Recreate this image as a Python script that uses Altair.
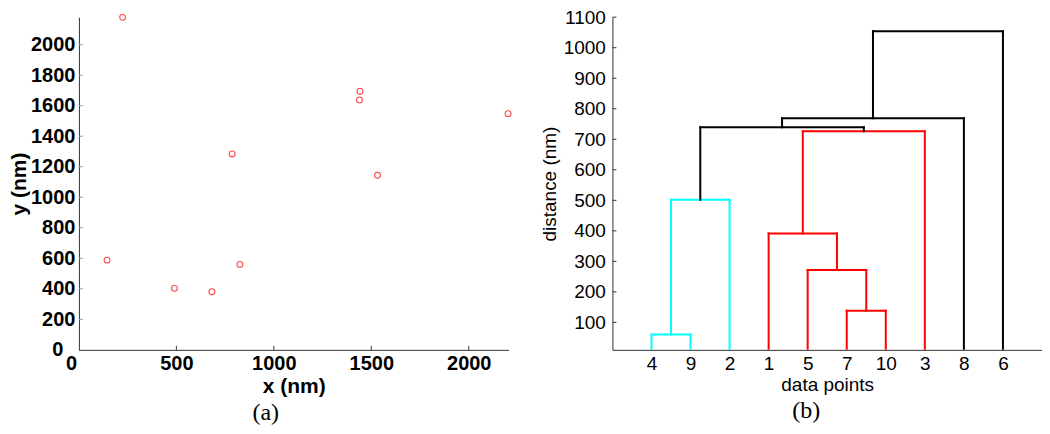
import altair as alt
import pandas as pd

# ---------------- Panel (a): point positions ----------------
pt_x = [224, 786, 1442, 1439, 2202, 1532, 144, 490, 682, 826]
pt_y = [2179, 1284, 1695, 1638, 1548, 1144, 588, 403, 381, 560]
a_xticks = [0, 500, 1000, 1500, 2000]
a_yticks = [0, 200, 400, 600, 800, 1000, 1200, 1400, 1600, 1800, 2000]
a_xdomain = [0, 2204]
a_ydomain = [0, 2180]

# ---------------- Panel (b): dendrogram ----------------
leaf_order = [4, 9, 2, 1, 5, 7, 10, 3, 8, 6]
link_left = [4, 7, 5, 1, 11, 14, 15, 17, 18]
link_right = [9, 10, 12, 13, 2, 3, 16, 8, 6]
link_height = [60, 138, 272, 391, 502, 726, 739, 769, 1054]
link_color = ["cyan", "red", "red", "red", "cyan", "red", "black", "black", "black"]
b_yticks = [100, 200, 300, 400, 500, 600, 700, 800, 900, 1000, 1100]
b_ydomain = [10, 1100]

W_A, W_B, H = 430, 430, 333
AXIS_COL = "#333333"
SANS = "Liberation Sans"
SERIF = "Liberation Serif"

# ---- panel (a) ----
pts = pd.DataFrame({"x": pt_x, "y": pt_y})
xs_a = alt.Scale(domain=a_xdomain, nice=False, zero=False)
ys_a = alt.Scale(domain=a_ydomain, nice=False, zero=False)

common_a = dict(ticks=False, grid=False, format="d", labelOverlap=False,
                labelFont=SANS, labelFontWeight="bold", labelFontSize=20,
                labelColor="black", titleFont=SANS, titleFontWeight="bold",
                titleFontSize=21, titleColor="black", domainColor=AXIS_COL,
                labelFlush=False)
ax_a_x = alt.Axis(title="x (nm)", values=a_xticks, labelPadding=4, titlePadding=2,
                  labelOffset={"condition": {"test": "datum.value === 0", "value": -8},
                               "value": 0},
                  **common_a)
ax_a_y = alt.Axis(title="y (nm)", values=a_yticks, titlePadding=1,
                  labelPadding={"condition": {"test": "datum.value === 0", "value": 16},
                                "value": 4},
                  **common_a)

points = alt.Chart(pts).mark_point(
    shape="circle", filled=False, color="#ff0000", size=34, strokeWidth=1.1
).encode(
    x=alt.X("x:Q", scale=xs_a, axis=ax_a_x),
    y=alt.Y("y:Q", scale=ys_a, axis=ax_a_y),
)

a_xt = pd.DataFrame({"x": a_xticks[1:]})
a_yt = pd.DataFrame({"y": a_yticks[1:]})
a_xtick_layer = alt.Chart(a_xt).mark_rule(color=AXIS_COL, strokeWidth=1).encode(
    x=alt.X("x:Q", scale=xs_a, axis=ax_a_x), y=alt.value(H), y2=alt.value(H - 4))
a_ytick_layer = alt.Chart(a_yt).mark_rule(color="#999999", strokeWidth=1).encode(
    y=alt.Y("y:Q", scale=ys_a, axis=ax_a_y), x=alt.value(0), x2=alt.value(4))

panel_a = alt.layer(points, a_xtick_layer, a_ytick_layer).properties(
    width=W_A, height=H,
    title=alt.TitleParams("(a)", orient="bottom", font=SERIF, fontSize=24,
                          fontWeight="normal", color="black", offset=4,
                          anchor="middle", frame="group", dx=-28))

# ---- panel (b) ----
pos = {leaf: i + 1 for i, leaf in enumerate(leaf_order)}
hgt = {leaf: 0 for leaf in leaf_order}
n = len(leaf_order)
rows = []
for k, (l, r, h, c) in enumerate(zip(link_left, link_right, link_height, link_color)):
    xl, xr = pos[l], pos[r]
    rows.append({"x": xl, "x2": xr, "y": h, "y2": h, "c": c})
    rows.append({"x": xl, "x2": xl, "y": hgt[l], "y2": h, "c": c})
    rows.append({"x": xr, "x2": xr, "y": hgt[r], "y2": h, "c": c})
    node = n + 1 + k
    pos[node] = (xl + xr) / 2
    hgt[node] = h
segs = pd.DataFrame(rows)

label_arr = "[" + ",".join("'%d'" % v for v in leaf_order) + "]"
xs_b = alt.Scale(domain=[0, n + 1], nice=False, zero=False)
ys_b = alt.Scale(domain=b_ydomain, nice=False, zero=False)

common_b = dict(ticks=False, grid=False, labelOverlap=False,
                labelFont=SANS, labelFontSize=19, labelColor="black",
                titleFont=SANS, titleFontWeight="normal", titleFontSize=19,
                titleColor="black", domainColor=AXIS_COL, labelFlush=False)
ax_b_x = alt.Axis(title="data points", values=list(range(1, n + 1)),
                  labelExpr=label_arr + "[datum.value - 1]",
                  labelPadding=5, titlePadding=2, **common_b)
ax_b_y = alt.Axis(title="distance (nm)", values=b_yticks, format="d",
                  labelPadding=7, titlePadding=4, **common_b)

dendro = alt.Chart(segs).mark_rule(strokeWidth=2, strokeCap="square", clip=True).encode(
    x=alt.X("x:Q", scale=xs_b, axis=ax_b_x),
    x2="x2:Q",
    y=alt.Y("y:Q", scale=ys_b, axis=ax_b_y),
    y2="y2:Q",
    color=alt.Color("c:N", scale=alt.Scale(domain=["cyan", "red", "black"],
                                           range=["#00ffff", "#ff0000", "#000000"]),
                    legend=None),
)

b_yt = pd.DataFrame({"y": b_yticks})
b_ytick_layer = alt.Chart(b_yt).mark_rule(color=AXIS_COL, strokeWidth=1).encode(
    y=alt.Y("y:Q", scale=ys_b, axis=ax_b_y), x=alt.value(0), x2=alt.value(4))

panel_b = alt.layer(dendro, b_ytick_layer).properties(
    width=W_B, height=H,
    title=alt.TitleParams("(b)", orient="bottom", font=SERIF, fontSize=24,
                          fontWeight="normal", color="black", offset=4,
                          anchor="middle", frame="group", dx=-21))

chart = alt.hconcat(panel_a, panel_b, spacing=26).properties(
    padding={"left": 0, "top": 0, "right": 0, "bottom": 0},
    background="white",
).configure_view(stroke=None)

chart.save("out.html", embed_options={"renderer": "svg", "actions": False})
